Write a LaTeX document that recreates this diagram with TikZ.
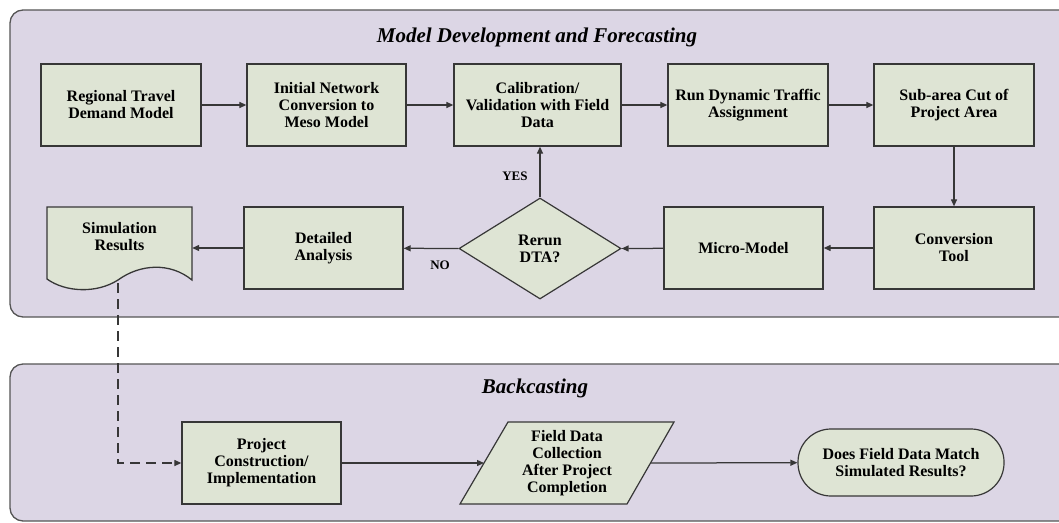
\documentclass[tikz,border=0pt]{standalone}
\usepackage{fontspec}
\setmainfont{Liberation Serif}
\usetikzlibrary{shapes.geometric,arrows.meta,calc}
\definecolor{panelfill}{RGB}{220,214,229}
\definecolor{boxfill}{RGB}{222,228,212}
\definecolor{edge}{RGB}{55,55,55}
\definecolor{paneledge}{RGB}{85,85,85}

\begin{document}
\begin{tikzpicture}[x=1pt,y=-1pt,
  panel/.style={draw=paneledge, fill=panelfill, line width=1.3pt, rounded corners=13pt},
  paneltitle/.style={font=\fontsize{21}{23}\selectfont\bfseries\itshape},
  boxtext/.style={align=center, inner sep=0pt, font=\fontsize{16}{17}\selectfont\bfseries},
  proc/.style={boxtext, draw=edge, fill=boxfill, line width=1.3pt, minimum height=82pt},
  decision/.style={boxtext, diamond, draw=edge, fill=boxfill, line width=1.2pt},
  terminal/.style={boxtext, draw=edge, fill=boxfill, line width=1.2pt, rounded corners=33pt, minimum width=206pt, minimum height=67pt},
  flow/.style={draw=edge, line width=1.25pt, -{Triangle[length=7pt,width=6pt]}},
  lbl/.style={font=\fontsize{13}{14}\selectfont\bfseries}
]
\useasboundingbox (0,0) rectangle (1059,522);
\clip (0,0) rectangle (1059,522);

% group panels
\draw[panel] (10,10) rectangle (1090,317);
\draw[panel] (10,364) rectangle (1090,521);
\node[paneltitle] (t1) at (537,37) {Model Development and Forecasting};
\node[paneltitle] (t2) at (535,388) {Backcasting};

% first row
\node[proc, minimum width=160pt] (rtd)  at (121,105)   {Regional Travel\\Demand Model};
\node[proc, minimum width=159pt] (inc)  at (326.5,105) {Initial Network\\Conversion to\\Meso Model};
\node[proc, minimum width=167pt] (cal)  at (537.5,105) {Calibration/\\Validation with Field\\Data};
\node[proc, minimum width=160pt] (dta1) at (748,105)   {Run Dynamic Traffic\\Assignment};
\node[proc, minimum width=160pt] (sub)  at (954,105)   {Sub-area Cut of\\Project Area};

% second row
\node[proc, minimum width=160pt] (conv) at (954,248)   {Conversion\\Tool};
\node[proc, minimum width=159pt] (micro) at (743.5,248) {Micro-Model};
\node[decision, minimum width=162pt, minimum height=101pt] (rerun) at (540,248.5) {Rerun\\DTA?};
\node[proc, minimum width=159pt] (det)  at (323.5,248) {Detailed\\Analysis};

% document shape for the simulation results
\draw[draw=edge, fill=boxfill, line width=1.3pt]
  (47,207) -- (192,207) -- (192,280)
  .. controls (170,262) and (140,264) .. (118,280)
  .. controls (96,294) and (65,292) .. (47,279) -- cycle;
\node[boxtext, minimum width=145pt, minimum height=82pt] (sim) at (119.5,248) {};
\node[boxtext] (simtxt) at (119.5,237) {Simulation\\Results};
\coordinate (simout) at (118,283);

% backcasting row
\node[proc, minimum width=159pt] (proj) at (261.5,463) {Project\\Construction/\\Implementation};
\draw[draw=edge, fill=boxfill, line width=1.2pt]
  (460,504) -- (508,422) -- (674,422) -- (627,504) -- cycle;
\node[boxtext] (fd) at (567,463) {Field Data\\Collection\\After Project\\Completion};
\coordinate (fdin) at (484,463);
\coordinate (fdout) at (650.5,463);
\node[terminal] (match) at (901,462.5) {Does Field Data Match\\Simulated Results?};

% connectors
\draw[flow] (rtd) -- (inc);
\draw[flow] (inc) -- (cal);
\draw[flow] (cal) -- (dta1);
\draw[flow] (dta1) -- (sub);
\draw[flow] (sub) -- (conv);
\draw[flow] (conv) -- (micro);
\draw[flow] (micro) -- (rerun.east);
\draw[flow] (rerun.west) -- (det);
\draw[flow] (det) -- (sim.east);
\draw[flow] (rerun.north) -- (rerun.north |- cal.south);
\node[lbl] (yes) at (515,176) {YES};
\node[lbl] (no) at (440,265) {NO};

\draw[flow, dash pattern=on 10pt off 6pt] (simout) |- (proj.west);
\draw[flow] (proj) -- (fdin);
\draw[flow] (fdout) -- (match);
\end{tikzpicture}
\end{document}
